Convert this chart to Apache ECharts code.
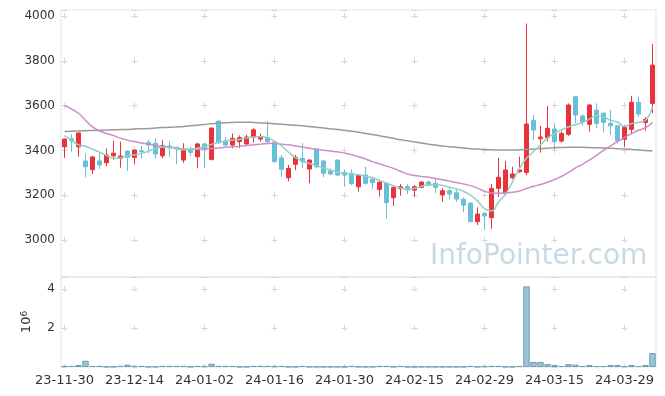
<!DOCTYPE html>
<html><head><meta charset="utf-8">
<script src="https://cdn.jsdelivr.net/npm/echarts@6/dist/echarts.min.js"></script>
<style>html,body{margin:0;padding:0;background:#fff}#c{width:665px;height:396px}</style>
</head><body><div id="c"></div>
<script>
const dates = ['23-11-30','23-12-01','23-12-04','23-12-05','23-12-06','23-12-07','23-12-08','23-12-11','23-12-12','23-12-13','23-12-14','23-12-15','23-12-18','23-12-19','23-12-20','23-12-21','23-12-22','23-12-26','23-12-27','23-12-28','24-01-02','24-01-03','24-01-04','24-01-05','24-01-08','24-01-09','24-01-10','24-01-11','24-01-12','24-01-15','24-01-16','24-01-17','24-01-18','24-01-19','24-01-22','24-01-23','24-01-24','24-01-25','24-01-26','24-01-29','24-01-30','24-01-31','24-02-01','24-02-02','24-02-05','24-02-06','24-02-07','24-02-08','24-02-13','24-02-14','24-02-15','24-02-16','24-02-19','24-02-20','24-02-21','24-02-22','24-02-23','24-02-26','24-02-27','24-02-28','24-02-29','24-03-04','24-03-05','24-03-06','24-03-07','24-03-08','24-03-11','24-03-12','24-03-13','24-03-14','24-03-15','24-03-18','24-03-19','24-03-20','24-03-21','24-03-22','24-03-25','24-03-26','24-03-27','24-03-28','24-03-29','24-04-01','24-04-02','24-04-03','24-04-04'];
const labelDates = ['23-11-30','23-12-14','24-01-02','24-01-16','24-01-30','24-02-15','24-02-29','24-03-15','24-03-29'];
const opens = [3416,3452,3416,3353,3314,3353,3345,3376,3365,3397,
 3369,3399,3436,3432,3376,3420,3414,3357,3402,3372,
 3429,3360,3531,3442,3424,3439,3429,3458,3451,3457,
 3437,3367,3278,3338,3365,3317,3405,3353,3309,3357,
 3302,3298,3238,3290,3271,3226,3253,3189,3229,3238,
 3223,3235,3259,3253,3201,3220,3211,3182,3164,3082,
 3119,3100,3231,3209,3278,3305,3302,3534,3452,3457,
 3496,3442,3472,3640,3554,3517,3580,3566,3521,3510,
 3450,3494,3615,3524,3610];
const closes = [3451,3443,3478,3327,3371,3335,3380,3388,3375,3369,
 3402,3395,3424,3384,3421,3411,3406,3402,3391,3429,
 3406,3500,3434,3424,3454,3457,3460,3492,3462,3439,
 3350,3316,3320,3369,3350,3357,3327,3298,3295,3290,
 3290,3253,3290,3253,3256,3258,3167,3234,3238,3223,
 3238,3259,3244,3235,3220,3205,3183,3156,3082,3116,
 3107,3230,3280,3313,3295,3313,3518,3491,3460,3499,
 3439,3476,3603,3558,3528,3603,3521,3525,3510,3443,
 3503,3615,3563,3539,3781];
const lows = [3367,3394,3372,3280,3295,3317,3330,3357,3323,3308,
 3338,3365,3387,3365,3365,3372,3338,3345,3375,3320,
 3320,3355,3430,3416,3409,3411,3420,3436,3440,3434,
 3345,3283,3263,3313,3320,3253,3320,3280,3290,3285,
 3238,3245,3216,3249,3226,3195,3097,3152,3198,3205,
 3193,3230,3240,3209,3171,3180,3170,3124,3080,3067,
 3045,3050,3193,3200,3272,3300,3290,3446,3390,3440,
 3402,3435,3465,3521,3510,3484,3499,3480,3469,3430,
 3416,3476,3550,3488,3566];
const highs = [3453,3472,3480,3387,3375,3394,3409,3443,3439,3400,
 3404,3420,3446,3454,3446,3442,3416,3432,3416,3434,
 3434,3502,3533,3460,3476,3467,3470,3499,3475,3531,
 3442,3380,3335,3380,3432,3360,3410,3356,3320,3360,
 3316,3316,3292,3327,3283,3268,3258,3245,3250,3250,
 3245,3262,3265,3271,3231,3235,3225,3190,3170,3146,
 3125,3250,3367,3353,3327,3372,3967,3558,3510,3598,
 3521,3485,3610,3642,3562,3606,3610,3570,3580,3515,
 3513,3644,3640,3548,3875];
const ma5 = [3466,3446,3425,3419,3405,3392,3378,3365,3367,3375,
 3380,3387,3397,3408,3414,3413,3408,3403,3405,3410,
 3418,3427,3436,3442,3447,3449,3455,3460,3461,3456,
 3442,3420,3392,3368,3352,3342,3332,3322,3313,3304,
 3298,3294,3291,3285,3278,3266,3254,3242,3232,3227,
 3231,3240,3247,3248,3243,3236,3228,3218,3200,3175,
 3140,3130,3170,3205,3260,3320,3365,3395,3425,3455,
 3475,3492,3505,3515,3525,3540,3555,3550,3535,3527,
 3507,3520,3525,3535,3595];
const ma20 = [3600,3585,3566,3535,3505,3487,3476,3466,3455,3446,
 3440,3433,3428,3422,3418,3415,3411,3407,3405,3405,
 3407,3409,3411,3414,3417,3419,3422,3425,3428,3431,
 3432,3428,3425,3420,3415,3410,3405,3401,3397,3394,
 3388,3381,3372,3362,3350,3340,3330,3320,3307,3295,
 3288,3284,3280,3275,3269,3263,3257,3250,3243,3232,
 3218,3210,3209,3210,3213,3219,3230,3240,3248,3258,
 3270,3284,3302,3322,3338,3358,3378,3400,3420,3440,
 3458,3475,3490,3502,3525];
const ma60 = [3485,3486,3487,3488,3489,3490,3491,3492,3493,3494,
 3496,3497,3498,3500,3502,3503,3505,3507,3510,3513,
 3516,3519,3522,3524,3525,3526,3526,3525,3523,3521,
 3519,3517,3515,3512,3510,3507,3504,3500,3497,3494,
 3490,3486,3481,3476,3471,3466,3460,3454,3448,3443,
 3438,3433,3428,3424,3420,3417,3414,3411,3408,3406,
 3404,3403,3402,3402,3402,3403,3404,3406,3408,3410,
 3412,3413,3414,3414,3414,3413,3412,3411,3410,3408,
 3406,3404,3402,3400,3398];
const volumes = [60000,60000,100000,320000,60000,60000,15000,15000,60000,120000,
 60000,60000,15000,15000,60000,60000,60000,60000,15000,60000,
 60000,170000,60000,60000,60000,15000,15000,60000,60000,60000,
 60000,60000,15000,15000,60000,15000,15000,15000,15000,15000,
 15000,60000,15000,15000,15000,60000,60000,15000,60000,15000,
 15000,15000,15000,15000,15000,15000,15000,15000,60000,15000,
 60000,60000,60000,15000,15000,60000,4140000,260000,260000,150000,
 100000,50000,150000,120000,50000,100000,50000,50000,100000,100000,
 50000,100000,50000,100000,720000];

const candleData = dates.map((d, i) => [opens[i], closes[i], lows[i], highs[i]]);
const showIdx = (i, v) => labelDates.indexOf(v) >= 0;
const FONT = 'DejaVu Sans';
const gridCol = '#d6d6d6';

const chart = echarts.init(document.getElementById('c'), null, {renderer: 'canvas'});
chart.setOption({
  animation: false,
  backgroundColor: '#fff',
  grid: [
    {left: 61, right: 9, top: 10, height: 267, show: true, borderColor: '#e3e3e3', borderWidth: 1},
    {left: 61, right: 9, top: 277, height: 90, show: true, borderColor: '#e3e3e3', borderWidth: 1}
  ],
  xAxis: [
    {type: 'category', data: dates, gridIndex: 0, boundaryGap: true,
     axisLine: {show: false}, axisTick: {show: false}, axisLabel: {show: false},
     splitLine: {show: true, interval: showIdx, alignWithLabel: true,
       lineStyle: {color: gridCol, width: 1, type: [6, 38.8], dashOffset: -3}}},
    {type: 'category', data: dates, gridIndex: 1, boundaryGap: true,
     axisLine: {show: false}, axisTick: {show: false},
     axisLabel: {interval: showIdx, color: '#333', fontSize: 13, fontFamily: FONT, margin: 7},
     splitLine: {show: true, interval: showIdx, alignWithLabel: true,
       lineStyle: {color: gridCol, width: 1, type: [6, 32.96], dashOffset: -9.08}}}
  ],
  yAxis: [
    {type: 'value', gridIndex: 0, min: 2835, max: 4027, splitNumber: 5, scale: true,
     axisLine: {show: false}, axisTick: {show: false},
     axisLabel: {color: '#333', fontSize: 12, fontFamily: FONT, margin: 6, showMinLabel: false, showMaxLabel: false,
       formatter: v => String(v)},
     splitLine: {show: true, lineStyle: {color: gridCol, width: 1, type: [6, 64], dashOffset: -0.5}}},
    {type: 'value', gridIndex: 1, min: 0, max: 4620000, interval: 2000000,
     name: '{b|10}{s|6}', nameLocation: 'middle', nameRotate: 90, nameGap: 27,
     nameTextStyle: {rich: {
       b: {fontSize: 13, fontFamily: FONT, color: '#333', lineHeight: 14},
       s: {fontSize: 9, fontFamily: FONT, color: '#333', verticalAlign: 'top', lineHeight: 14}}},
     axisLine: {show: false}, axisTick: {show: false},
     axisLabel: {color: '#333', fontSize: 12, fontFamily: FONT, margin: 6, showMinLabel: false, showMaxLabel: false,
       formatter: v => String(v / 1e6)},
     splitLine: {show: true, lineStyle: {color: gridCol, width: 1, type: [6, 64], dashOffset: -0.5}}}
  ],
  graphic: [
    {type: 'text', x: 430, y: 257, z: 0, silent: true,
     style: {text: 'InfoPointer.com', font: '28px "DejaVu Sans"', fill: '#c8dbe5', verticalAlign: 'middle', align: 'left'}}
  ],
  series: [
    {type: 'candlestick', name: 'price', xAxisIndex: 0, yAxisIndex: 0, data: candleData, barWidth: 5,
     itemStyle: {color: '#e8333a', color0: '#67bfd8', borderColor: '#e8333a', borderColor0: '#67bfd8', borderWidth: 1}},
    {type: 'line', name: 'ma60', xAxisIndex: 0, yAxisIndex: 0, data: ma60, symbol: 'none', smooth: true,
     lineStyle: {color: '#9a9a9a', width: 1.5}},
    {type: 'line', name: 'ma20', xAxisIndex: 0, yAxisIndex: 0, data: ma20, symbol: 'none', smooth: true,
     lineStyle: {color: '#cf8cc6', width: 1.5}},
    {type: 'line', name: 'ma5', xAxisIndex: 0, yAxisIndex: 0, data: ma5, symbol: 'none', smooth: true,
     lineStyle: {color: '#93d0c4', width: 1.5}},
    {type: 'bar', name: 'volume', xAxisIndex: 1, yAxisIndex: 1, data: volumes, barCategoryGap: '8%',
     itemStyle: {color: '#9cc4d4', borderColor: '#6c9fb4', borderWidth: 1}}
  ]
});
</script></body></html>
